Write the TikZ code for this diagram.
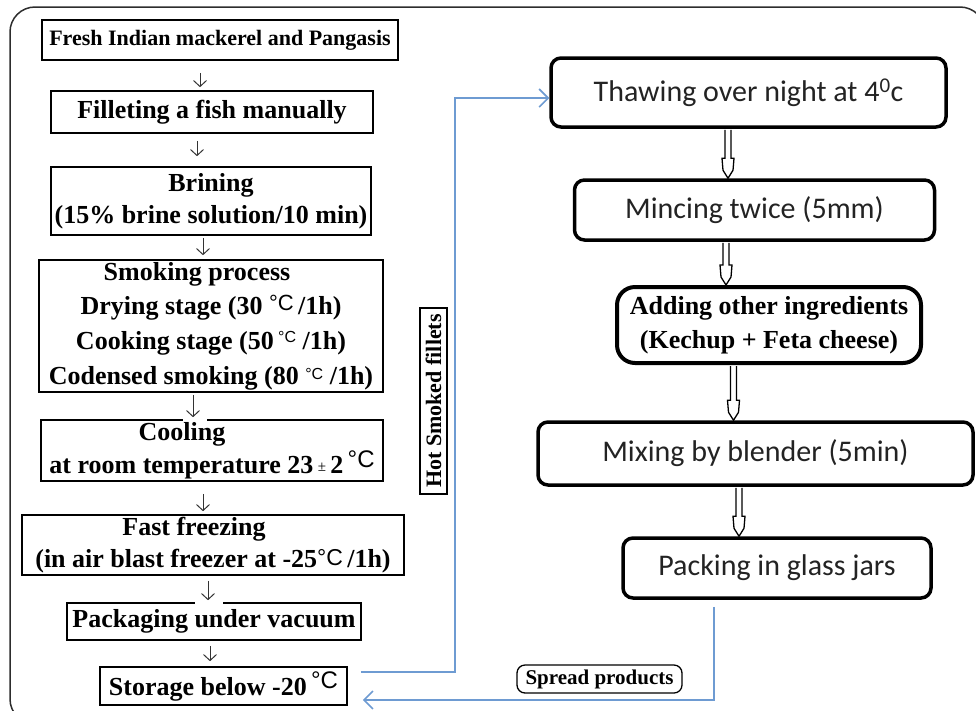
\documentclass[tikz,border=0pt]{standalone}
\usepackage{fontspec}
\setmainfont{Liberation Serif}
\newfontfamily\calfont{Carlito}
\newfontfamily\degfont{Liberation Sans}
\usetikzlibrary{arrows.meta,calc}

\definecolor{frameline}{RGB}{45,45,45}
\definecolor{linkblue}{RGB}{110,155,210}
\definecolor{caltext}{RGB}{35,35,35}

\newcommand\dgc[2]{\raisebox{#2}{\degfont\mdseries\fontsize{#1}{#1}\selectfont °C}}

\begin{document}
\begin{tikzpicture}[x=1pt,y=-1pt,
  lbox/.style={draw=black, line width=1.6pt, inner sep=0pt, align=center,
    font=\bfseries\fontsize{26}{32}\selectfont},
  rbox/.style={draw=black, line width=3.5pt, rounded corners=10pt, inner sep=0pt,
    align=center, text=caltext, font=\calfont\fontsize{30}{34}\selectfont},
  smallarr/.style={draw=black!80, line width=1pt, -{Straight Barb[length=6pt,width=13pt]}},
  hollowarr/.style={draw=black, line width=1.3pt, fill=white, line join=miter},
  bluelink/.style={draw=linkblue, line width=1.6pt, -{Straight Barb[length=9pt,width=18pt]}},
  tag/.style={draw=black, line width=1.3pt, inner sep=0pt, font=\bfseries\fontsize{21}{21}\selectfont}]

\useasboundingbox (0,0) rectangle (976,710);
\begin{scope}
\clip (0,0) rectangle (976,710);
\draw[frameline, line width=1.5pt, rounded corners=25pt] (10,7) rectangle (985,724);
\end{scope}

% left column
\node[lbox, minimum width=356, minimum height=40, font=\bfseries\fontsize{22}{26}\selectfont]
  (B1) at (220,40) {Fresh Indian mackerel and Pangasis};
\node[lbox, minimum width=322, minimum height=42] (B2) at (212,112) {Filleting a fish manually};
\node[lbox, minimum width=320, minimum height=68] (B3) at (211,201)
  {Brining\\(15\% brine solution/10 min)};
\node[lbox, minimum width=344, minimum height=132, font=\bfseries\fontsize{26}{34.7}\selectfont]
  (B4) at (211,326)
  {Smoking process\hspace*{28pt}\\
   Drying stage (30 \dgc{22}{4pt}\,/1h)\\
   Cooking stage (50\,\dgc{16}{7pt} /1h)\\
   Codensed smoking (80 \dgc{16}{5pt} /1h)};
\node[lbox, minimum width=342, minimum height=61, font=\bfseries\fontsize{26}{33}\selectfont]
  (B5) at (212,450.5)
  {Cooling\hspace*{60pt}\\
   at room temperature 23\,{\mdseries\fontsize{15}{15}\selectfont\raisebox{2pt}{±}}\,2\,\dgc{24}{6pt}};
\node[lbox, minimum width=382, minimum height=60, font=\bfseries\fontsize{26}{32}\selectfont]
  (B6) at (213,545)
  {Fast freezing\hspace*{38pt}\\
   (in air blast freezer at -25\dgc{23}{2pt}\,/1h)};
\node[lbox, minimum width=294, minimum height=37] (B7) at (214,621.5) {Packaging under vacuum};
\node[lbox, minimum width=247, minimum height=38] (B8) at (223.5,686)
  {Storage below -20\,\dgc{24}{7pt}};

% white breaks in the borders where the arrow glyphs overlap them
\fill[white] ([xshift=-29pt,yshift=1.5pt]B5.north) rectangle ([xshift=-5pt,yshift=-1.5pt]B5.north);
\fill[white] ([xshift=-19pt,yshift=1.5pt]B7.north) rectangle ([xshift=9pt,yshift=-1.5pt]B7.north);

\foreach \a/\b/\x/\s/\e in {B1/B2/200/12/3, B2/B3/197/7/10, B3/B4/203/2/4,
    B4/B5/193/2/2, B5/B6/203/12/3, B6/B7/208/5/2, B7/B8/210/5/5}{
  \coordinate (xa) at (\x,0);
  \draw[smallarr, shorten <=\s pt, shorten >=\e pt] (\a.south -| xa) -- (\b.north -| xa);
}

% right column
\node[rbox, minimum width=395, minimum height=69] (R1) at (748.5,92.5)
  {Thawing over night at 4\textsuperscript{0}c};
\node[rbox, minimum width=360, minimum height=60] (R2) at (754.5,210)
  {Mincing twice (5mm)};
\node[rbox, minimum width=304, minimum height=76, rounded corners=18pt, line width=4pt,
  text=black, font=\bfseries\fontsize{26}{34}\selectfont] (R3) at (769,325)
  {Adding other ingredients\\(Kechup + Feta cheese)};
\node[rbox, minimum width=435, minimum height=63] (R4) at (755.5,453.5)
  {Mixing by blender (5min)};
\node[rbox, minimum width=308, minimum height=60] (R5) at (777,568)
  {Packing in glass jars};

\foreach \a/\b/\x in {R1/R2/728, R2/R3/726, R3/R4/733.5, R4/R5/739}{
  \coordinate (xa) at (\x,0);
  \path (\a.south -| xa) coordinate (ha) (\b.north -| xa) coordinate (hb);
  \draw[hollowarr] ($(ha)+(-3,1)$) -- ($(hb)+(-3,-20)$) -- ($(hb)+(-6,-20)$) -- ($(hb)+(-5,-8)$)
    -- (hb) -- ($(hb)+(5,-8)$) -- ($(hb)+(6,-20)$) -- ($(hb)+(3,-20)$) -- ($(ha)+(3,1)$);
}

% labels
\node[tag, rotate=90, minimum width=186, minimum height=27, font=\bfseries\fontsize{22}{22}\selectfont]
  (HS) at (433.5,401) {Hot Smoked fillets};
\node[tag, rounded corners=8pt, minimum width=165, minimum height=28] (SP) at (599.5,679) {Spread products};

% blue links
\coordinate (bend) at (455,0);
\coordinate (s1) at ([xshift=13pt,yshift=14pt]B8.east);
\coordinate (t1) at ([yshift=-5.5pt]R1.west);
\draw[bluelink] (s1) -| (bend |- t1) -- (t1);
\coordinate (s2) at ([xshift=-63pt,yshift=-7pt]R5.south);
\coordinate (t2) at ([xshift=15pt,yshift=-14pt]B8.east);
\draw[bluelink] (s2) |- (t2);
\end{tikzpicture}
\end{document}
